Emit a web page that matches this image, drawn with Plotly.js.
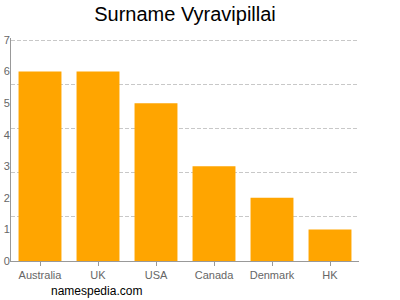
<!DOCTYPE html>
<html><head><meta charset="utf-8">
<script src="https://cdn.plot.ly/plotly-3.0.1.min.js"></script>
<style>html,body{margin:0;padding:0;background:#fff}#c{width:400px;height:300px}</style>
</head><body><div id="c"></div>
<script>
const countries = ["Australia", "UK", "USA", "Canada", "Denmark", "HK"];
const counts = [6, 6, 5, 3, 2, 1];
const yTicks = [0, 1, 2, 3, 4, 5, 6, 7];
const gridVals = [1.4, 2.8, 4.2, 5.6, 7];

const data = [
  {type: "bar", x: countries, y: counts, marker: {color: "#FFA500"}, hoverinfo: "x+y"},
  {type: "scatter", x: countries, y: counts, yaxis: "y2", mode: "none", showlegend: false, hoverinfo: "skip"}
];
const layout = {
  width: 400, height: 300,
  margin: {l: 11, r: 41, t: 38, b: 39},
  paper_bgcolor: "#fff", plot_bgcolor: "#fff",
  showlegend: false,
  bargap: 0.26,
  font: {family: "Liberation Sans, Arial, sans-serif", color: "#666", size: 11},
  title: {text: "Surname Vyravipillai", x: 0.4625, xanchor: "center", y: 0.955, yanchor: "middle",
          font: {size: 20, color: "#000"}},
  xaxis: {showline: true, linecolor: "#999", linewidth: 1, ticks: "outside", ticklen: 4, tickcolor: "#999",
          tickfont: {size: 11, color: "#666"}, showgrid: false, zeroline: false, fixedrange: true},
  yaxis: {range: [0, 7.064], tickvals: yTicks, showline: true, linecolor: "#999", linewidth: 1,
          ticks: "", showgrid: false, zeroline: false,
          tickfont: {size: 11, color: "#666"}, ticklabelstandoff: -2, fixedrange: true},
  yaxis2: {range: [0, 7.064], overlaying: "y", tickvals: gridVals, showticklabels: false, ticks: "",
           showgrid: true, gridcolor: "#c8c8c8", griddash: "4px,2px", gridwidth: 1, zeroline: false,
           side: "left", fixedrange: true, layer: "below traces"},
  annotations: [{text: "namespedia.com", xref: "paper", yref: "paper", x: 0.247, y: -0.136,
                 xanchor: "center", yanchor: "middle", showarrow: false,
                 font: {size: 12, color: "#000"}}]
};
Plotly.newPlot("c", data, layout, {displayModeBar: false, staticPlot: true});
</script></body></html>
